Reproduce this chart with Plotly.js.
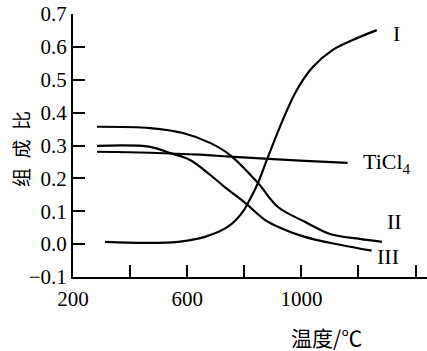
<!DOCTYPE html>
<html>
<head>
<meta charset="utf-8">
<script src="https://cdn.plot.ly/plotly-3.0.1.min.js"></script>
<style>html,body{margin:0;padding:0;background:#fff;}#chart{width:427px;height:351px;}</style>
</head>
<body>
<div id="chart"></div>
<script>
// Temperatures (°C) and composition ratios
const tempI   = [312, 452, 568, 662, 743, 792, 813, 848, 879, 935, 984, 1040, 1110, 1180, 1264];
const curveI  = [0.007, 0.004, 0.007, 0.022, 0.053, 0.095, 0.125, 0.186, 0.256, 0.378, 0.469, 0.539, 0.591, 0.621, 0.651];

const tempII  = [284, 470, 585, 680, 750, 848, 918, 1012, 1100, 1205, 1282];
const curveII = [0.357, 0.353, 0.338, 0.308, 0.271, 0.186, 0.113, 0.068, 0.031, 0.016, 0.007];

const tempIII  = [284, 470, 540, 610, 680, 735, 802, 872, 925, 1012, 1135, 1246];
const curveIII = [0.299, 0.296, 0.277, 0.256, 0.211, 0.171, 0.126, 0.074, 0.050, 0.022, -0.002, -0.020];

const tempTiCl4 = [284, 470, 645, 750, 995, 1162];
const curveTiCl4 = [0.281, 0.278, 0.272, 0.266, 0.254, 0.247];

const xTickVals = [200, 600, 1000];          // labelled ticks
const xTickText = ['200', '600', '1000'];
const yTickVals = [-0.1, 0, 0.1, 0.2, 0.3, 0.4, 0.5, 0.6, 0.7];

const seriesNames = ['I', 'II', 'III', 'TiCl<sub>4</sub>'];
const labelX = [1334, 1327, 1302, 1210];
const labelY = [0.642, 0.068, -0.039, 0.247];

const lineStyle = {color: '#000', width: 2.2, shape: 'spline', smoothing: 1};
const traces = [
  {x: tempI, y: curveI},
  {x: tempII, y: curveII},
  {x: tempIII, y: curveIII},
  {x: tempTiCl4, y: curveTiCl4}
].map(t => Object.assign(t, {type: 'scatter', mode: 'lines', line: lineStyle, hoverinfo: 'skip'}));

const serif = '"Liberation Serif", serif';
const cjk = '"Noto Sans CJK SC", sans-serif';

const annotations = seriesNames.map((n, i) => ({
  x: labelX[i], y: labelY[i], xref: 'x', yref: 'y', text: n, showarrow: false,
  xanchor: i === 3 ? 'left' : 'center', yanchor: 'middle',
  font: {family: serif, size: 22, color: '#000'}
}));
annotations.push({
  xref: 'paper', yref: 'paper', x: 0, y: (277 - 149) / 263, xshift: -53,
  text: '组\u2002成\u2002比',
  textangle: -90, showarrow: false, xanchor: 'center', yanchor: 'middle',
  font: {family: cjk, size: 19, color: '#000'}
});
annotations.push({
  xref: 'paper', yref: 'paper', x: (326 - 73) / 354, y: 0, yshift: -60, text: '温度/℃',
  showarrow: false, xanchor: 'center', yanchor: 'middle',
  font: {family: cjk, size: 21, color: '#000'}
});

const layout = {
  width: 427, height: 351,
  margin: {l: 73, r: 0, t: 14, b: 74},
  paper_bgcolor: '#fff', plot_bgcolor: '#fff',
  font: {family: serif, size: 21, color: '#000'},
  showlegend: false,
  xaxis: {
    range: [200, 1440], tickmode: 'array', tickvals: xTickVals, ticktext: xTickText,
    ticks: 'inside', ticklen: 12, tickwidth: 2, tickcolor: '#000',
    minor: {tick0: 200, dtick: 200, ticks: 'inside', ticklen: 12, tickwidth: 2, tickcolor: '#000', showgrid: false},
    showline: true, linecolor: '#000', linewidth: 2, showgrid: false, zeroline: false,
    tickfont: {family: serif, size: 21, color: '#000'}, ticklabelstandoff: 2
  },
  yaxis: {
    range: [-0.1, 0.7], tickmode: 'array', tickvals: yTickVals, tickformat: '.1f',
    ticks: 'inside', ticklen: 12, tickwidth: 2, tickcolor: '#000',
    showline: true, linecolor: '#000', linewidth: 2, showgrid: false, zeroline: false,
    tickfont: {family: serif, size: 21, color: '#000'}, ticklabelstandoff: 0
  },
  annotations: annotations
};

Plotly.newPlot('chart', traces, layout, {staticPlot: true, displayModeBar: false});
</script>
</body>
</html>
